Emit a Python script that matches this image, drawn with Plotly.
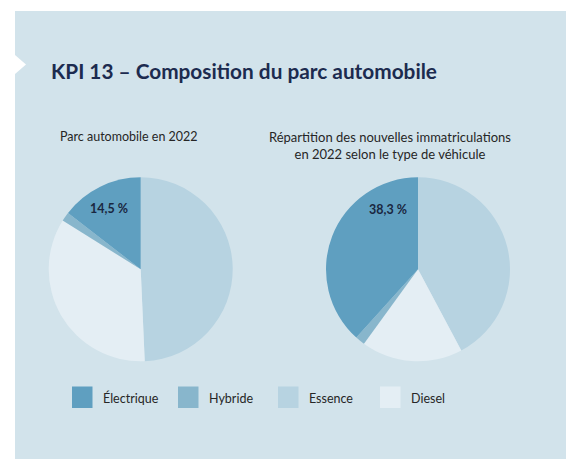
import plotly.graph_objects as go

# ---- data ----
categories = ["Électrique", "Hybride", "Essence", "Diesel"]
colors = ["#5f9fc0", "#88b6cc", "#b7d3e1", "#e4eef4"]

parc_2022 = [14.5, 1.6, 49.3, 34.6]          # Parc automobile en 2022
immat_2022 = [38.3, 1.7, 42.2, 17.8]         # Nouvelles immatriculations 2022

title_text = "KPI 13 – Composition du parc automobile"
subtitle_1 = "Parc automobile en 2022"
subtitle_2 = "Répartition des nouvelles immatriculations<br>en 2022 selon le type de véhicule"
label_1 = "14,5 %"
label_2 = "38,3 %"

W, H = 566, 460
FONT = "Source Sans Pro, Lato, Roboto, sans-serif"
PANEL = "#d2e3eb"
NAVY = "#1c2b4f"
TEXT = "#262626"

def px(x):
    return x / W

def py(y):
    return 1 - y / H

# clockwise from 12 o'clock: Essence, Diesel, Hybride, Électrique
order = [2, 3, 1, 0]

def pie(values, cx, cy, r):
    return go.Pie(
        labels=[categories[i] for i in order],
        values=[values[i] for i in order],
        marker=dict(colors=[colors[i] for i in order], line=dict(width=0)),
        sort=False,
        direction="clockwise",
        rotation=0,
        textinfo="none",
        hoverinfo="label+value",
        showlegend=False,
        domain=dict(x=[px(cx - r), px(cx + r)], y=[py(cy + r), py(cy - r)]),
    )

fig = go.Figure()
fig.add_trace(pie(parc_2022, 140.7, 269.3, 92))
fig.add_trace(pie(immat_2022, 418.0, 269.3, 92))

shapes = [
    # background panel
    dict(type="rect", xref="paper", yref="paper", x0=px(15), x1=px(W + 5),
         y0=py(459), y1=py(11), fillcolor=PANEL, line=dict(width=0), layer="below"),
    # white notch
    dict(type="path", xref="paper", yref="paper",
         path=f"M {px(15)} {py(55)} L {px(26)} {py(64.5)} L {px(15)} {py(74)} Z",
         fillcolor="white", line=dict(width=0), layer="below"),
]

annotations = [
    dict(text=f"<b>{title_text}</b>", x=px(48.5), y=py(70.5), xref="paper", yref="paper",
         xanchor="left", yanchor="middle", showarrow=False,
         font=dict(family=FONT, size=20.8, color=NAVY)),
    dict(text=subtitle_1, x=px(128.5), y=py(137), xref="paper", yref="paper",
         xanchor="center", yanchor="middle", showarrow=False,
         font=dict(family=FONT, size=12.5, color=TEXT)),
    dict(text=subtitle_2, x=px(390), y=py(146), xref="paper", yref="paper",
         xanchor="center", yanchor="middle", showarrow=False, align="center",
         font=dict(family=FONT, size=13, color=TEXT)),
    dict(text=f"<b>{label_1}</b>", x=px(109), y=py(208.5), xref="paper", yref="paper",
         xanchor="center", yanchor="middle", showarrow=False,
         font=dict(family=FONT, size=12.5, color="#1a2740")),
    dict(text=f"<b>{label_2}</b>", x=px(388), y=py(209.5), xref="paper", yref="paper",
         xanchor="center", yanchor="middle", showarrow=False,
         font=dict(family=FONT, size=12.5, color="#1a2740")),
]

# legend (swatches + labels)
legend_x = [72, 178, 278, 380]
for i, name in enumerate(categories):
    x0 = legend_x[i]
    shapes.append(dict(type="rect", xref="paper", yref="paper",
                       x0=px(x0), x1=px(x0 + 20.5), y0=py(408), y1=py(386.5),
                       fillcolor=colors[i], line=dict(width=0)))
    annotations.append(dict(text=name, x=px(x0 + 28.5), y=py(398), xref="paper", yref="paper",
                            xanchor="left", yanchor="middle", showarrow=False,
                            font=dict(family=FONT, size=12.5, color=TEXT)))

fig.update_layout(
    width=W, height=H,
    margin=dict(l=0, r=0, t=0, b=0),
    paper_bgcolor="white",
    plot_bgcolor="white",
    shapes=shapes,
    annotations=annotations,
    showlegend=False,
    font=dict(family=FONT),
)

fig.write_html("out.html", config={"displayModeBar": False},
               post_script="document.body.style.margin='0';")
